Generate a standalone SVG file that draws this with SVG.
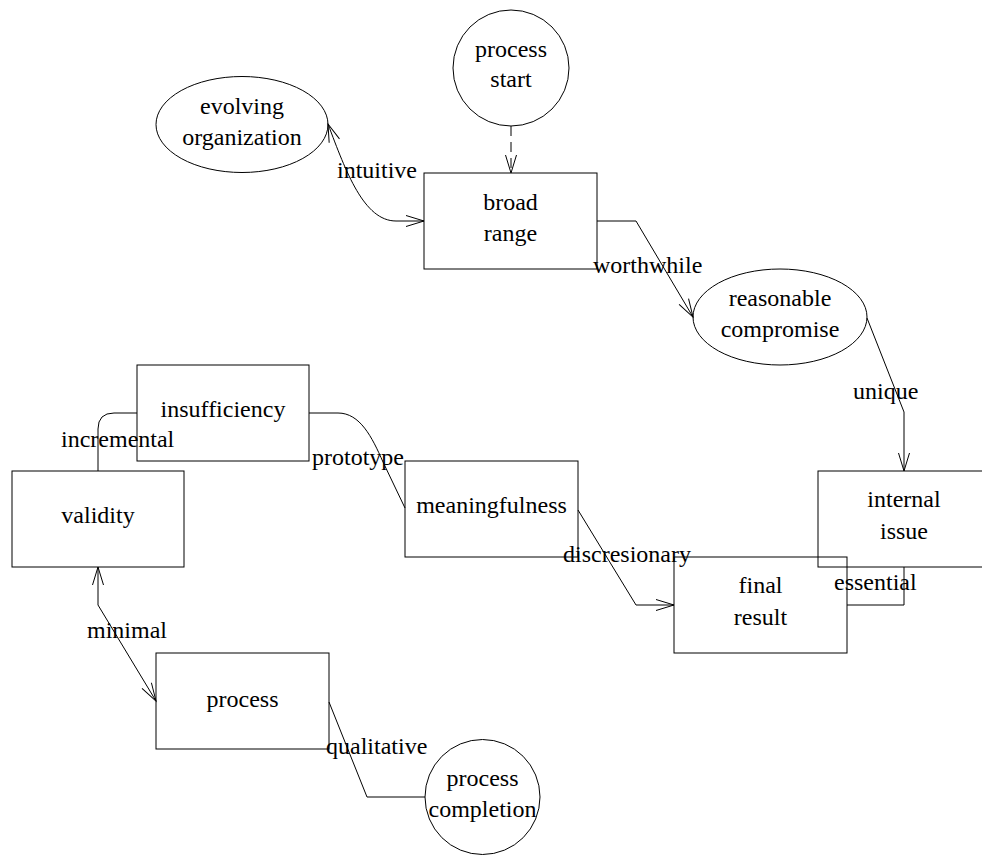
<svg xmlns="http://www.w3.org/2000/svg" width="982" height="855" viewBox="0 0 982 855">
<style>
  .shape { fill: none; stroke: #000; stroke-width: 1; }
  .edge { fill: none; stroke: #000; stroke-width: 1; }
  .dashed { stroke-dasharray: 10,6; }
  text { font-family: "Liberation Serif", "Times New Roman", serif; font-size: 24px; fill: #000; }
  .c { text-anchor: middle; }
</style>
<defs>
  <marker id="arrow" markerUnits="userSpaceOnUse" markerWidth="24" markerHeight="16" viewBox="-20 -8 24 16" refX="0" refY="0" orient="auto-start-reverse" overflow="visible">
    <path d="M-18,-5.5 L0,0 L-18,5.5" fill="none" stroke="#000" stroke-width="1"/>
  </marker>
</defs>
<rect width="982" height="855" fill="#fff"/>

<g id="connectors">
  <path class="edge dashed" d="M511,126 L511,173" marker-end="url(#arrow)"/>
  <path class="edge" d="M328,124 C346,172 364,221 396,221 L424,221" marker-start="url(#arrow)" marker-end="url(#arrow)"/>
  <path class="edge" d="M597,221 L636,221 L693,317" marker-end="url(#arrow)"/>
  <path class="edge" d="M867,318 L904,412 L904,471" marker-end="url(#arrow)"/>
  <path class="edge" d="M904,567 L904,605 L847,605"/>
  <path class="edge" d="M578,510 L636,605 L674,605" marker-end="url(#arrow)"/>
  <path class="edge" d="M309,413 L338,413 C360,413 372,437 383,462 L405,508"/>
  <path class="edge" d="M137,413 L114,413 Q98,413 98,429 L98,471"/>
  <path class="edge" d="M98,567 L98,605 L156,701" marker-start="url(#arrow)" marker-end="url(#arrow)"/>
  <path class="edge" d="M329,702 L367,797 L425,797"/>
  <text x="337" y="178">intuitive</text>
  <text x="593" y="273">worthwhile</text>
  <text x="853" y="399">unique</text>
  <text x="61" y="447">incremental</text>
  <text x="312" y="465">prototype</text>
  <text x="563" y="562">discresionary</text>
  <text x="834" y="590">essential</text>
  <text x="87" y="638">minimal</text>
  <text x="326" y="754">qualitative</text>
</g>

<g id="process-start">
  <circle class="shape" cx="511" cy="68" r="58"/>
  <text class="c" x="511" y="57">process</text>
  <text class="c" x="511" y="87">start</text>
</g>
<g id="evolving-organization">
  <ellipse class="shape" cx="242" cy="124.5" rx="86" ry="48"/>
  <text class="c" x="242" y="114">evolving</text>
  <text class="c" x="242" y="145">organization</text>
</g>
<g id="broad-range">
  <rect class="shape" x="424" y="173" width="173" height="96"/>
  <text class="c" x="510.5" y="210">broad</text>
  <text class="c" x="510.5" y="241">range</text>
</g>
<g id="reasonable-compromise">
  <ellipse class="shape" cx="780" cy="317" rx="87" ry="48"/>
  <text class="c" x="780" y="306">reasonable</text>
  <text class="c" x="780" y="337">compromise</text>
</g>
<g id="internal-issue">
  <rect class="shape" x="818" y="471" width="173" height="96"/>
  <text class="c" x="904" y="507">internal</text>
  <text class="c" x="904" y="539">issue</text>
</g>
<g id="final-result">
  <rect class="shape" x="674" y="557" width="173" height="96"/>
  <text class="c" x="760.5" y="593">final</text>
  <text class="c" x="760.5" y="625">result</text>
</g>
<g id="meaningfulness">
  <rect class="shape" x="405" y="461" width="173" height="96"/>
  <text class="c" x="491.5" y="513">meaningfulness</text>
</g>
<g id="insufficiency">
  <rect class="shape" x="137" y="365" width="172" height="96"/>
  <text class="c" x="223" y="417">insufficiency</text>
</g>
<g id="validity">
  <rect class="shape" x="12" y="471" width="172" height="96"/>
  <text class="c" x="98" y="523">validity</text>
</g>
<g id="process">
  <rect class="shape" x="156" y="653" width="173" height="96"/>
  <text class="c" x="242.5" y="707">process</text>
</g>
<g id="process-completion">
  <circle class="shape" cx="482.5" cy="797" r="57.5"/>
  <text class="c" x="482.5" y="786">process</text>
  <text class="c" x="482.5" y="817">completion</text>
</g>
</svg>
